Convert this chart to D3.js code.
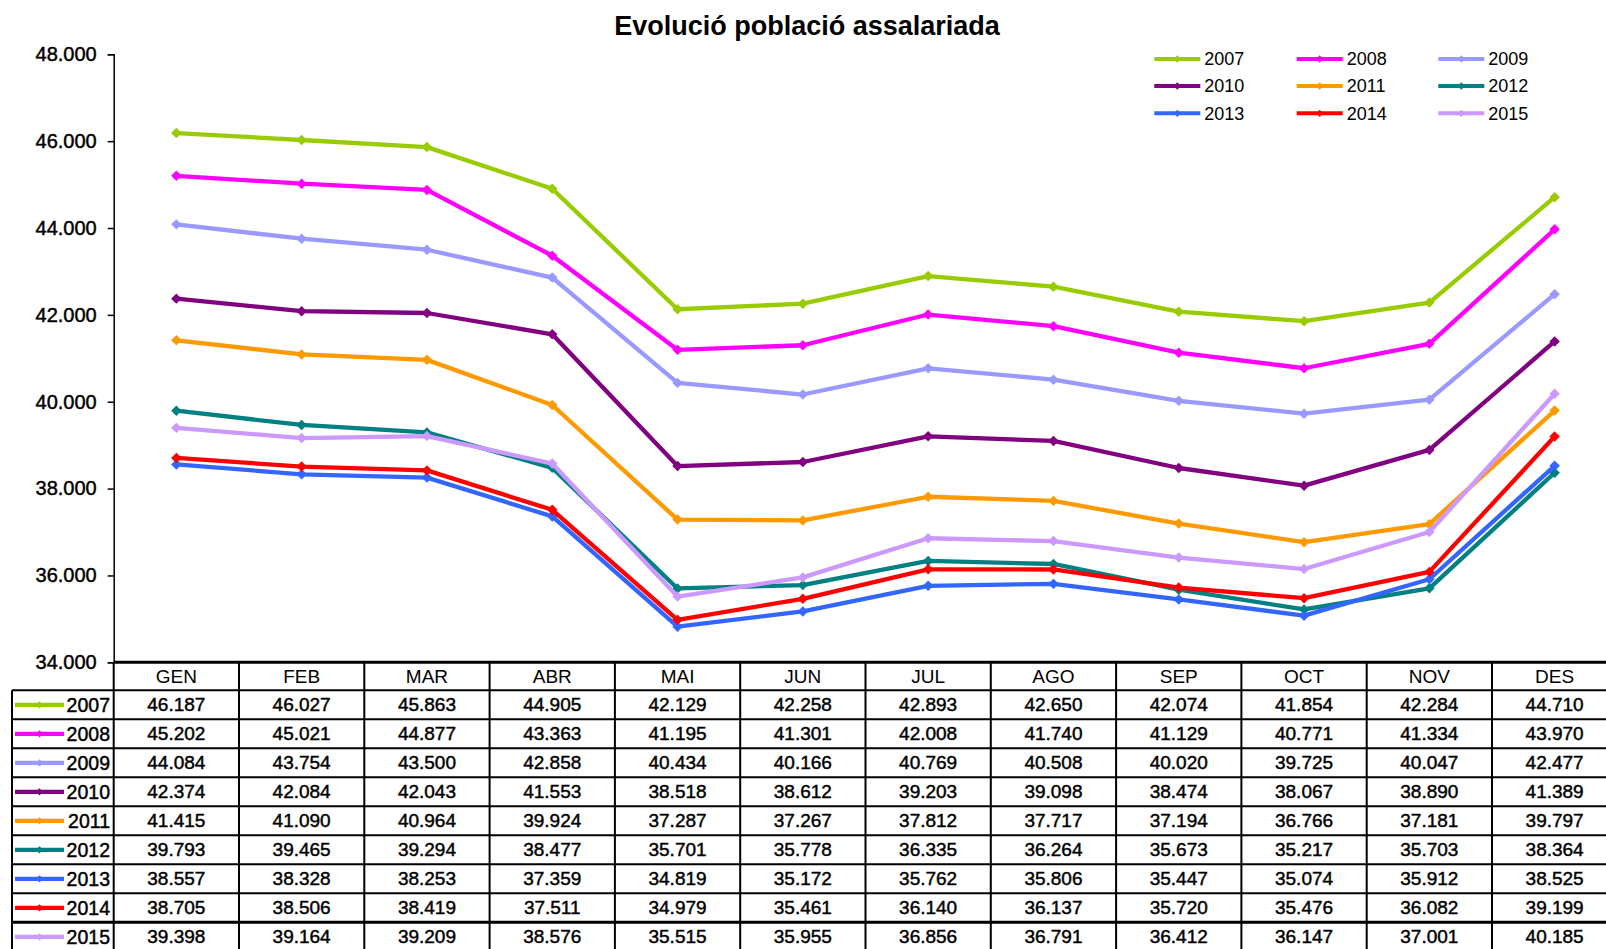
<!DOCTYPE html>
<html><head><meta charset="utf-8">
<script src="https://cdn.jsdelivr.net/npm/d3@7/dist/d3.min.js"></script>
<style>
html,body{margin:0;padding:0;background:#fff;overflow:hidden;}
text{font-family:"Liberation Sans",Arial,sans-serif;fill:#000;}
text.h{stroke:#000;stroke-width:0.45px;}
</style></head>
<body>
<svg id="c" width="1606" height="949"></svg>
<script>
const title = "Evolució població assalariada";
const months = ["GEN","FEB","MAR","ABR","MAI","JUN","JUL","AGO","SEP","OCT","NOV","DES"];
const years = ["2007","2008","2009","2010","2011","2012","2013","2014","2015"];
const colors = ["#99CC00","#FF00FF","#9999FF","#800080","#FF9900","#008080","#3366FF","#FF0000","#CC99FF"];
const yTicks = [34000,36000,38000,40000,42000,44000,46000,48000];

const v2007 = [46187,46027,45863,44905,42129,42258,42893,42650,42074,41854,42284,44710];
const v2008 = [45202,45021,44877,43363,41195,41301,42008,41740,41129,40771,41334,43970];
const v2009 = [44084,43754,43500,42858,40434,40166,40769,40508,40020,39725,40047,42477];
const v2010 = [42374,42084,42043,41553,38518,38612,39203,39098,38474,38067,38890,41389];
const v2011 = [41415,41090,40964,39924,37287,37267,37812,37717,37194,36766,37181,39797];
const v2012 = [39793,39465,39294,38477,35701,35778,36335,36264,35673,35217,35703,38364];
const v2013 = [38557,38328,38253,37359,34819,35172,35762,35806,35447,35074,35912,38525];
const v2014 = [38705,38506,38419,37511,34979,35461,36140,36137,35720,35476,36082,39199];
const v2015 = [39398,39164,39209,38576,35515,35955,36856,36791,36412,36147,37001,40185];

const seriesValues = [v2007,v2008,v2009,v2010,v2011,v2012,v2013,v2014,v2015];
const series = years.map((y,i)=>({year:y,color:colors[i],values:seriesValues[i]}));

const loc = d3.formatLocale({decimal:",",thousands:".",grouping:[3],currency:["","€"]});
const fmt = loc.format(",d");

const svg = d3.select("#c");
const left = 113.7, bandW = 125.3;
const right = left + bandW*months.length;
const yTop = 54.3, yBot = 662.3;

const x = d3.scaleBand().domain(months).range([left,right]).padding(0);
const y = d3.scaleLinear().domain([34000,48000]).range([yBot,yTop]);

// title
svg.append("text").attr("x",807).attr("y",35).attr("text-anchor","middle")
  .attr("font-size",27).attr("font-weight","bold").text(title);

// y axis
const yAxis = d3.axisLeft(y).tickValues(yTicks).tickFormat(fmt).tickSize(6).tickPadding(11);
const ga = svg.append("g").attr("transform",`translate(${left},0)`).call(yAxis);
ga.select(".domain").attr("stroke","#000").attr("stroke-width",1.5);
ga.selectAll(".tick line").attr("stroke","#000").attr("stroke-width",1.5);
ga.selectAll(".tick text").attr("class","h").attr("font-size",20).attr("font-family","Liberation Sans, Arial, sans-serif").attr("fill","#000");

// lines
const line = d3.line().x((d,i)=>x(months[i])+x.bandwidth()/2).y(d=>y(d));
const diamond = d3.symbol().type(d3.symbolDiamond2).size(70);
series.forEach(s=>{
  const g = svg.append("g");
  g.append("path").datum(s.values).attr("d",line).attr("fill","none")
    .attr("stroke",s.color).attr("stroke-width",4.3).attr("stroke-linejoin","round");
  g.selectAll("path.m").data(s.values).join("path").attr("class","m")
    .attr("transform",(d,i)=>`translate(${x(months[i])+x.bandwidth()/2},${y(d)})`)
    .attr("d",diamond).attr("fill",s.color);
});

// legend
const legX = [1154.3,1296.7,1438.3], legY = [59,86,113.3];
series.forEach((s,i)=>{
  const lx = legX[i%3], ly = legY[Math.floor(i/3)];
  const g = svg.append("g").attr("transform",`translate(${lx},${ly})`);
  g.append("line").attr("x1",0).attr("x2",46).attr("y1",0).attr("y2",0)
    .attr("stroke",s.color).attr("stroke-width",4);
  g.append("path").attr("transform","translate(23,0)").attr("d",d3.symbol().type(d3.symbolDiamond2).size(34)()).attr("fill",s.color);
  g.append("text").attr("x",50).attr("y",0).attr("dy","0.35em").attr("font-size",18).text(s.year);
});

// data table
const headH = 28, rowH = 29;
const tLeft = 12;
const tg = svg.append("g");
const rowTop = i => yBot + headH + i*rowH;
months.forEach(m=>{
  tg.append("text").attr("x",x(m)+x.bandwidth()/2).attr("y",yBot+headH/2).attr("dy","0.35em")
    .attr("text-anchor","middle").attr("font-size",19).text(m);
});
series.forEach((s,i)=>{
  const cy = rowTop(i)+rowH/2;
  tg.append("line").attr("x1",15).attr("x2",64).attr("y1",cy).attr("y2",cy)
    .attr("stroke",s.color).attr("stroke-width",4.3);
  tg.append("path").attr("transform",`translate(39.5,${cy})`).attr("d",d3.symbol().type(d3.symbolDiamond2).size(34)()).attr("fill",s.color);
  tg.append("text").attr("class","h").attr("x",110).attr("y",cy).attr("dy","0.35em").attr("text-anchor","end")
    .attr("font-size",19.5).text(s.year);
  s.values.forEach((v,j)=>{
    tg.append("text").attr("class","h").attr("x",x(months[j])+x.bandwidth()/2).attr("y",cy).attr("dy","0.35em")
      .attr("text-anchor","middle").attr("font-size",19).text(fmt(v));
  });
});
const bottom = rowTop(series.length);
tg.append("line").attr("x1",left).attr("x2",right).attr("y1",yBot).attr("y2",yBot).attr("stroke","#000").attr("stroke-width",3);
for(let i=0;i<=series.length;i++){
  const yy = rowTop(i);
  tg.append("line").attr("x1",tLeft).attr("x2",right).attr("y1",yy).attr("y2",yy)
    .attr("stroke","#000").attr("stroke-width", i===series.length-1 ? 3 : 2);
}
tg.append("line").attr("x1",tLeft).attr("x2",tLeft).attr("y1",rowTop(0)).attr("y2",bottom).attr("stroke","#000").attr("stroke-width",2);
months.forEach((m,j)=>{
  const xx = x(m)+x.bandwidth();
  tg.append("line").attr("x1",xx).attr("x2",xx).attr("y1",yBot).attr("y2",bottom).attr("stroke","#000").attr("stroke-width",2);
});
tg.append("line").attr("x1",left).attr("x2",left).attr("y1",yBot).attr("y2",bottom).attr("stroke","#000").attr("stroke-width",2);
</script>
</body></html>
